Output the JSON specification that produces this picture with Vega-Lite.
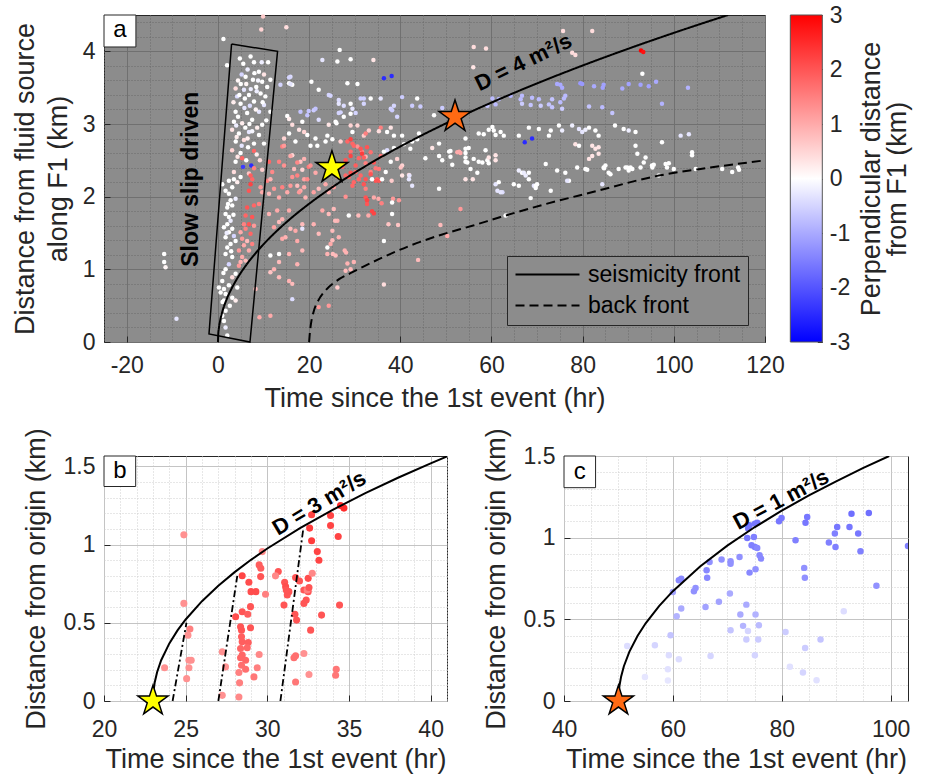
{
"$schema": "https://vega.github.io/schema/vega-lite/v6.json",
"background": "white",
"padding": {"left": 10, "top": 3, "right": 5, "bottom": 5},
"config": {
  "font": "Liberation Sans",
  "view": {"stroke": "#262626", "strokeWidth": 1},
  "axis": {"domain": false, "labelFontSize": 23, "titleFontSize": 27, "titleFontWeight": "normal", "labelColor": "#262626", "titleColor": "#262626", "tickColor": "#262626", "labelFont": "Liberation Sans", "titleFont": "Liberation Sans", "labelOverlap": false, "labelFlush": false, "tickWidth": 1, "titleLimit": 500},
  "legend": {"labelFont": "Liberation Sans", "titleFont": "Liberation Sans"}
},
"datasets": {
"a": [
{"t":-11.8,"r":1.21,"p":0},{"t":-11.8,"r":1.10,"p":0},{"t":-11.5,"r":1.03,"p":0.1},{"t":-9.1,"r":0.32,"p":-0.3},{"t":1.2,"r":4.17,"p":0},{"t":2.0,"r":3.81,"p":0},{"t":9.9,"r":4.48,"p":0.6},{"t":9.5,"r":4.3,"p":0.5},{"t":15,"r":4.33,"p":0.4},
{"t":5.55,"r":3.83,"p":0},{"t":7.15,"r":3.93,"p":0},{"t":5.2,"r":3.68,"p":-0.5},{"t":6.06,"r":3.65,"p":0},{"t":8.98,"r":3.72,"p":0},{"t":10.1,"r":3.68,"p":0.3},{"t":7.67,"r":3.61,"p":0},{"t":9.7,"r":3.58,"p":0},{"t":11.5,"r":3.61,"p":0},{"t":3.87,"r":3.49,"p":0.4},{"t":5.7,"r":3.47,"p":-0.3},{"t":8.4,"r":3.51,"p":0},{"t":10.8,"r":3.51,"p":0},{"t":4.2,"r":3.38,"p":-0.4},{"t":6.8,"r":3.40,"p":0},{"t":9.35,"r":3.42,"p":0},{"t":10.4,"r":3.38,"p":0},{"t":4.96,"r":3.28,"p":0},{"t":7.9,"r":3.31,"p":0},{"t":10.1,"r":3.26,"p":-0.3},{"t":3.87,"r":3.17,"p":0},{"t":6.4,"r":3.15,"p":0},{"t":9.0,"r":3.17,"p":-0.3},{"t":11.5,"r":3.17,"p":0},{"t":3.5,"r":3.03,"p":0},{"t":5.3,"r":3.01,"p":0.2},{"t":7.5,"r":3.06,"p":0},{"t":9.7,"r":2.99,"p":0},{"t":3.1,"r":2.92,"p":0.3},{"t":4.6,"r":2.87,"p":0},{"t":6.8,"r":2.89,"p":-0.3},{"t":9.0,"r":2.85,"p":0},{"t":3.9,"r":2.76,"p":0},{"t":5.7,"r":2.78,"p":0.4},{"t":7.9,"r":2.73,"p":0},{"t":10.1,"r":2.73,"p":0},{"t":3.1,"r":2.64,"p":0.5},{"t":4.96,"r":2.6,"p":0},{"t":7.9,"r":2.63,"p":1.8},{"t":5.3,"r":2.53,"p":1.8},{"t":3.87,"r":2.48,"p":0},{"t":7.3,"r":2.43,"p":-2.5},{"t":5.5,"r":2.41,"p":-2.3},{"t":7.9,"r":2.39,"p":1.5},{"t":6.8,"r":2.32,"p":0.7},{"t":9.7,"r":2.37,"p":0.6},{"t":3.5,"r":2.34,"p":0.4},
{"t":4.4,"r":3.6,"p":0.1},{"t":6.5,"r":3.75,"p":-0.2},{"t":7.9,"r":3.85,"p":0},{"t":8.5,"r":3.45,"p":-0.2},{"t":6.2,"r":3.55,"p":0.1},{"t":5.0,"r":3.55,"p":0},{"t":7.2,"r":3.48,"p":-0.2},{"t":9.8,"r":3.3,"p":0},{"t":8.3,"r":3.2,"p":0.1},{"t":5.8,"r":3.22,"p":-0.3},{"t":4.4,"r":3.1,"p":0},{"t":6.9,"r":3.0,"p":0},{"t":8.6,"r":2.95,"p":0.2},{"t":4.0,"r":2.98,"p":-0.2},{"t":6.0,"r":2.95,"p":0},{"t":5.2,"r":2.7,"p":-0.3},{"t":6.6,"r":2.68,"p":0},{"t":8.5,"r":2.58,"p":0.2},{"t":4.3,"r":2.55,"p":0.3},{"t":6.2,"r":2.5,"p":0},{"t":9.2,"r":2.5,"p":0.4},{"t":4.7,"r":3.4,"p":0},{"t":3.4,"r":3.3,"p":0.2},{"t":7.0,"r":3.25,"p":-0.4},{"t":8.8,"r":3.6,"p":-0.1},{"t":10.6,"r":3.05,"p":0},{"t":6.5,"r":2.8,"p":0.2},{"t":7.5,"r":2.9,"p":-0.1},{"t":5.9,"r":3.35,"p":0},{"t":4.1,"r":2.82,"p":0.2},{"t":8.0,"r":3.7,"p":0},{"t":9.6,"r":3.85,"p":-0.2},{"t":11.0,"r":3.85,"p":0},{"t":4.8,"r":3.9,"p":0},
{"t":14.1,"r":2.69,"p":1.5},{"t":13.7,"r":3.54,"p":-0.5},{"t":15.9,"r":3.65,"p":-0.4},{"t":15.6,"r":3.56,"p":0},{"t":16.3,"r":3.54,"p":0},{"t":20.5,"r":3.58,"p":0},{"t":22.1,"r":3.47,"p":0},{"t":24.3,"r":3.40,"p":-0.5},{"t":26.5,"r":3.28,"p":-0.3},{"t":22.9,"r":3.88,"p":-0.3},{"t":26.2,"r":3.86,"p":0},{"t":18.1,"r":3.17,"p":-0.7},{"t":19.6,"r":3.12,"p":-0.7},{"t":21.0,"r":3.19,"p":-0.6},{"t":22.1,"r":3.06,"p":-0.4},{"t":18.5,"r":3.03,"p":0},{"t":16.3,"r":2.99,"p":0.4},{"t":17.8,"r":2.92,"p":0.3},{"t":15.6,"r":2.87,"p":0},{"t":19.6,"r":2.85,"p":0},{"t":24.3,"r":2.99,"p":0.3},{"t":25.8,"r":3.03,"p":0},{"t":21.4,"r":2.80,"p":0},{"t":23.6,"r":2.76,"p":0},{"t":14.5,"r":2.80,"p":0.5},{"t":17.0,"r":2.76,"p":0},{"t":13.4,"r":2.48,"p":1.5},{"t":16.3,"r":2.57,"p":0.5},{"t":18.1,"r":2.48,"p":0.7},{"t":19.9,"r":2.41,"p":1.6},{"t":18.5,"r":2.37,"p":0.5},{"t":11.2,"r":2.48,"p":1.8},{"t":11.9,"r":2.34,"p":1.4},
{"t":29.1,"r":3.89,"p":0},{"t":26.7,"r":4.02,"p":0},{"t":34.1,"r":3.88,"p":0.3},{"t":15.9,"r":3.55,"p":-0.3},{"t":15.6,"r":3.64,"p":-0.5},{"t":24.7,"r":3.39,"p":-0.5},{"t":27.6,"r":3.25,"p":-0.4},{"t":26.9,"r":3.16,"p":-0.5},{"t":29.1,"r":3.14,"p":0},{"t":29.5,"r":3.21,"p":-0.3},{"t":31.3,"r":3.35,"p":-0.6},{"t":32.0,"r":3.35,"p":-0.6},{"t":33.5,"r":3.35,"p":0},{"t":35.7,"r":3.35,"p":-0.3},{"t":37.9,"r":3.21,"p":-0.5},{"t":38.6,"r":3.25,"p":-0.5},{"t":40.4,"r":3.37,"p":-0.6},{"t":42.6,"r":3.25,"p":-0.6},{"t":44.4,"r":3.24,"p":-0.6},{"t":19.9,"r":3.18,"p":-0.7},{"t":21.4,"r":3.21,"p":-0.7},{"t":15.2,"r":3.11,"p":0},{"t":15.6,"r":3.07,"p":0.2},{"t":18.9,"r":2.89,"p":0.5},{"t":20.3,"r":2.70,"p":0},{"t":21.8,"r":2.70,"p":0},{"t":24.0,"r":2.84,"p":0},{"t":25.1,"r":2.79,"p":0},{"t":29.1,"r":2.98,"p":0.5},{"t":30.6,"r":2.98,"p":0.5},{"t":32.0,"r":2.84,"p":0.6},{"t":33.1,"r":2.91,"p":0.6},{"t":35.7,"r":2.95,"p":1.5},{"t":37.1,"r":2.89,"p":0},{"t":38.6,"r":2.84,"p":0},{"t":40.4,"r":2.84,"p":0},{"t":43.7,"r":2.79,"p":0},{"t":42.2,"r":2.66,"p":0},{"t":39.3,"r":2.52,"p":0.5},{"t":40.4,"r":2.43,"p":0.5},
{"t":28.4,"r":3.56,"p":0},{"t":30.6,"r":3.55,"p":0},{"t":36.4,"r":3.63,"p":-2.5},{"t":38.1,"r":3.66,"p":-2.5},{"t":26.5,"r":3.33,"p":-0.4},{"t":29.1,"r":3.28,"p":0},{"t":32.0,"r":3.28,"p":-0.5},{"t":30.2,"r":3.15,"p":-0.5},{"t":26.5,"r":3.15,"p":-0.5},{"t":27.6,"r":3.1,"p":0},{"t":26.0,"r":3.01,"p":0},{"t":38.2,"r":3.19,"p":-0.6},{"t":39.3,"r":3.1,"p":-0.5},{"t":49.2,"r":3.22,"p":-0.6},{"t":47.4,"r":3.12,"p":0},{"t":43.7,"r":3.35,"p":0},{"t":29.5,"r":2.89,"p":0},{"t":32.4,"r":2.87,"p":1.5},{"t":35.3,"r":2.9,"p":0.4},{"t":37.9,"r":2.95,"p":0.3},{"t":44.1,"r":2.87,"p":0},{"t":42.6,"r":2.76,"p":0},{"t":40.8,"r":2.72,"p":0},{"t":37.1,"r":2.64,"p":-0.4},{"t":38.6,"r":2.67,"p":0},{"t":36.4,"r":2.62,"p":0},{"t":48.5,"r":2.73,"p":0},{"t":47.0,"r":2.67,"p":0.3},{"t":50.7,"r":2.62,"p":0},{"t":45.5,"r":2.53,"p":0},{"t":37.9,"r":2.48,"p":0},{"t":40.1,"r":2.4,"p":0.7},{"t":41.9,"r":2.30,"p":0.5},{"t":34.6,"r":2.39,"p":1.6},{"t":32.4,"r":2.55,"p":0.9},{"t":31.6,"r":2.62,"p":1.5},{"t":30.6,"r":2.69,"p":1.3},{"t":28.4,"r":2.76,"p":1.8},{"t":29.5,"r":2.73,"p":1.8},{"t":26.9,"r":2.76,"p":0.5},{"t":29.1,"r":2.62,"p":1.7},{"t":30.9,"r":2.53,"p":1.8},{"t":32.4,"r":2.46,"p":1.5},{"t":28.0,"r":2.50,"p":2.0},{"t":27.3,"r":2.41,"p":1.8},{"t":33.5,"r":2.34,"p":1.5},{"t":30.2,"r":2.34,"p":1.7},{"t":36.8,"r":2.34,"p":0},
{"t":59.4,"r":2.92,"p":0},{"t":57.2,"r":2.87,"p":0},{"t":60.9,"r":2.85,"p":0},{"t":60.2,"r":2.96,"p":0},{"t":54.3,"r":2.80,"p":0},{"t":55.0,"r":2.67,"p":0},{"t":54.3,"r":2.60,"p":0},{"t":52.9,"r":2.62,"p":1.0},{"t":57.2,"r":2.48,"p":0},{"t":59.1,"r":2.50,"p":0},{"t":59.4,"r":2.46,"p":0},{"t":60.9,"r":2.50,"p":0.3},{"t":54.3,"r":2.48,"p":0},{"t":51.4,"r":2.44,"p":0},{"t":49.2,"r":2.50,"p":0},{"t":51.0,"r":2.55,"p":0},{"t":58.7,"r":2.64,"p":0},{"t":60.9,"r":2.57,"p":0.3},{"t":56.1,"r":4.06,"p":0.4},{"t":58.8,"r":4.04,"p":0.4},
{"t":29.1,"r":2.79,"p":2.2},{"t":29.8,"r":2.70,"p":1.8},{"t":31.3,"r":2.66,"p":2.0},{"t":31.6,"r":2.59,"p":2.3},{"t":32.0,"r":2.54,"p":1.9},{"t":32.7,"r":2.68,"p":2.0},{"t":33.5,"r":2.61,"p":1.7},{"t":34.2,"r":2.47,"p":2.0},{"t":34.9,"r":2.24,"p":1.8},{"t":35.7,"r":2.56,"p":1.6},{"t":29.1,"r":2.56,"p":2.2},{"t":30.2,"r":2.43,"p":1.9},{"t":29.1,"r":2.33,"p":2.1},{"t":31.3,"r":2.29,"p":1.8},{"t":33.5,"r":2.31,"p":2.0},{"t":35.3,"r":2.38,"p":1.6},
{"t":14.5,"r":2.70,"p":1.2},{"t":15.9,"r":2.56,"p":1.0},{"t":17.4,"r":2.47,"p":1.4},{"t":18.9,"r":2.52,"p":0.9},{"t":20.3,"r":2.43,"p":1.3},{"t":21.4,"r":2.33,"p":1.0},{"t":17.4,"r":2.29,"p":1.5},{"t":18.9,"r":2.24,"p":1.1},{"t":14.5,"r":2.43,"p":1.3},{"t":16.7,"r":2.38,"p":0.8},{"t":15.9,"r":2.15,"p":1.2},{"t":18.1,"r":2.08,"p":1.0},
{"t":1.67,"r":1.76,"p":0},{"t":2.40,"r":1.72,"p":0},{"t":2.77,"r":1.67,"p":-0.2},{"t":2.04,"r":1.62,"p":0},{"t":1.31,"r":1.58,"p":0},{"t":3.13,"r":1.56,"p":0},{"t":2.40,"r":1.51,"p":0},{"t":1.67,"r":1.44,"p":0},{"t":3.5,"r":1.46,"p":-0.5},{"t":3.87,"r":1.39,"p":0},{"t":2.77,"r":1.35,"p":0},{"t":2.04,"r":1.30,"p":0},{"t":1.67,"r":1.21,"p":0},{"t":3.13,"r":1.17,"p":0},{"t":2.40,"r":1.07,"p":-0.5},{"t":1.67,"r":1.00,"p":0},{"t":3.87,"r":0.94,"p":0},{"t":3.13,"r":0.89,"p":0.4},{"t":0.94,"r":0.84,"p":0},{"t":0.21,"r":0.75,"p":0},{"t":1.31,"r":0.73,"p":0},{"t":2.40,"r":0.78,"p":0},{"t":4.23,"r":0.75,"p":0},{"t":0.58,"r":0.68,"p":0},{"t":1.67,"r":0.66,"p":0},{"t":1.31,"r":0.57,"p":0},{"t":3.13,"r":0.61,"p":0},{"t":3.87,"r":0.57,"p":0.2},{"t":1.67,"r":0.43,"p":0},{"t":0.94,"r":0.36,"p":0},{"t":1.31,"r":0.29,"p":0},{"t":1.67,"r":0.20,"p":-0.2},{"t":2.04,"r":0.09,"p":0},{"t":2.04,"r":1.85,"p":0},{"t":3.13,"r":1.88,"p":0},{"t":2.77,"r":1.95,"p":0},{"t":3.87,"r":1.97,"p":-0.2},{"t":2.40,"r":2.04,"p":0},{"t":3.13,"r":2.13,"p":0},{"t":4.23,"r":2.20,"p":0.2},{"t":3.5,"r":2.24,"p":0},{"t":4.96,"r":2.27,"p":0},{"t":2.40,"r":2.22,"p":0},{"t":0.94,"r":2.17,"p":0},{"t":1.67,"r":2.08,"p":0},{"t":2.2,"r":1.9,"p":0},{"t":1.9,"r":1.5,"p":-0.2},{"t":3.4,"r":1.75,"p":0},{"t":2.9,"r":1.25,"p":0},{"t":1.2,"r":0.95,"p":0},{"t":2.6,"r":0.5,"p":0},{"t":1.0,"r":0.55,"p":0},
{"t":6.79,"r":2.08,"p":2.0},{"t":7.15,"r":2.17,"p":2.2},{"t":7.52,"r":2.24,"p":1.8},{"t":7.15,"r":2.29,"p":1.9},{"t":7.9,"r":1.88,"p":1.8},{"t":6.4,"r":1.85,"p":2.0},{"t":9.0,"r":1.90,"p":1.5},{"t":6.06,"r":1.74,"p":1.8},{"t":7.5,"r":1.72,"p":2.0},{"t":5.7,"r":1.62,"p":1.5},{"t":6.8,"r":1.62,"p":2.0},{"t":7.9,"r":1.60,"p":1.2},{"t":6.06,"r":1.56,"p":1.5},{"t":4.96,"r":1.51,"p":1.0},{"t":7.15,"r":1.49,"p":1.8},{"t":5.3,"r":1.42,"p":1.2},{"t":6.4,"r":1.39,"p":0.8},{"t":7.5,"r":1.35,"p":1.5},{"t":5.7,"r":1.33,"p":1.0},{"t":4.6,"r":1.26,"p":1.2},{"t":5.3,"r":1.17,"p":1.0},{"t":4.96,"r":1.10,"p":0.9},{"t":4.6,"r":1.05,"p":1.2},{"t":6.8,"r":1.26,"p":1.0},{"t":6.06,"r":1.12,"p":0.8},
{"t":9.35,"r":2.13,"p":1.2},{"t":9.7,"r":2.06,"p":1.0},{"t":10.8,"r":2.22,"p":1.5},{"t":11.5,"r":2.24,"p":0.9},{"t":12.3,"r":2.11,"p":1.2},{"t":11.2,"r":2.04,"p":0.8},{"t":13.4,"r":1.99,"p":1.0},{"t":14.1,"r":2.13,"p":1.5},{"t":15.2,"r":2.06,"p":1.0},{"t":16.3,"r":2.27,"p":1.3},{"t":17.4,"r":2.15,"p":0.8},{"t":17.8,"r":2.06,"p":1.2},{"t":18.9,"r":2.13,"p":1.0},{"t":19.6,"r":2.24,"p":1.4},{"t":19.2,"r":1.99,"p":0.9},{"t":21.0,"r":2.06,"p":1.1},{"t":22.1,"r":2.11,"p":0.8},{"t":23.6,"r":2.17,"p":1.0},{"t":24.3,"r":2.06,"p":0.9},{"t":25.4,"r":2.13,"p":1.2},{"t":26.2,"r":2.27,"p":1.0},
{"t":11.2,"r":1.76,"p":0.9},{"t":13.0,"r":1.81,"p":1.0},{"t":13.4,"r":1.65,"p":0.8},{"t":12.3,"r":1.58,"p":1.1},{"t":14.1,"r":1.69,"p":0.9},{"t":15.6,"r":1.81,"p":1.0},{"t":15.9,"r":1.56,"p":0.8},{"t":17.0,"r":1.53,"p":1.0},{"t":14.8,"r":1.44,"p":0.9},{"t":17.4,"r":1.39,"p":1.0},{"t":18.5,"r":1.26,"p":0.8},{"t":15.6,"r":1.21,"p":0.9},{"t":13.4,"r":1.10,"p":0.8},{"t":12.3,"r":1.00,"p":0.9},{"t":13.4,"r":0.89,"p":0.8},{"t":15.6,"r":0.84,"p":0.9},{"t":16.3,"r":0.80,"p":0.8},{"t":17.4,"r":1.07,"p":0.9},{"t":11.5,"r":0.96,"p":0.7},{"t":14.1,"r":1.42,"p":1.0},{"t":18.5,"r":1.62,"p":0.8},{"t":21.0,"r":1.62,"p":0.9},{"t":22.1,"r":1.49,"p":0.8},{"t":24.0,"r":1.21,"p":0.9},{"t":24.7,"r":1.35,"p":1.0},{"t":25.8,"r":1.19,"p":0.8},{"t":26.5,"r":1.44,"p":0.9},{"t":22.9,"r":1.81,"p":1.0},{"t":24.3,"r":1.76,"p":0.8},{"t":26.2,"r":1.67,"p":0.9},{"t":11.5,"r":1.19,"p":0},{"t":13.4,"r":1.21,"p":0},{"t":18.5,"r":1.56,"p":-0.3},{"t":24.0,"r":1.3,"p":0},{"t":16.3,"r":0.59,"p":-0.4},{"t":9.1,"r":0.34,"p":1.0},{"t":11.5,"r":0.36,"p":1.0},{"t":8.25,"r":0.73,"p":0.8},{"t":22.1,"r":0.48,"p":1.2},{"t":24.3,"r":0.50,"p":1.2},
{"t":28.0,"r":2.29,"p":1.8},{"t":28.7,"r":2.27,"p":1.8},{"t":32.4,"r":2.24,"p":2.0},{"t":32.0,"r":2.17,"p":2.0},{"t":34.6,"r":2.22,"p":2.0},{"t":35.3,"r":2.22,"p":2.0},{"t":33.8,"r":2.24,"p":0},{"t":36.0,"r":2.24,"p":0},{"t":38.1,"r":2.22,"p":0.6},{"t":40.4,"r":2.29,"p":0.3},{"t":41.9,"r":2.24,"p":-0.3},{"t":42.0,"r":2.29,"p":-0.3},{"t":42.6,"r":2.15,"p":-0.3},{"t":48.5,"r":2.11,"p":0},{"t":54.3,"r":2.24,"p":0.3},{"t":55.9,"r":2.24,"p":0.3},{"t":60.9,"r":2.17,"p":-0.3},{"t":61.3,"r":2.08,"p":-0.3},
{"t":29.5,"r":2.15,"p":1.8},{"t":29.8,"r":2.20,"p":1.8},{"t":30.9,"r":2.24,"p":1.8},{"t":32.4,"r":2.11,"p":1.5},{"t":32.4,"r":1.99,"p":2.0},{"t":32.7,"r":1.95,"p":2.2},{"t":32.7,"r":1.90,"p":2.0},{"t":34.2,"r":1.99,"p":1.0},{"t":35.2,"r":1.97,"p":1.0},{"t":33.8,"r":1.80,"p":2.2},{"t":34.2,"r":1.77,"p":2.2},{"t":35.9,"r":1.91,"p":1.5},{"t":38.4,"r":1.97,"p":1.2},{"t":39.7,"r":1.95,"p":1.2},{"t":38.2,"r":1.92,"p":0},{"t":38.2,"r":1.76,"p":0},{"t":33.0,"r":1.74,"p":1.0},{"t":30.8,"r":1.74,"p":0.8},{"t":28.7,"r":1.74,"p":0},{"t":28.0,"r":2.0,"p":1.3},{"t":25.4,"r":1.83,"p":0.8},{"t":25.7,"r":1.67,"p":0.8},{"t":37.4,"r":1.62,"p":0.7},{"t":39.5,"r":1.61,"p":0.7},{"t":36.4,"r":1.39,"p":0},{"t":48.8,"r":1.61,"p":0.8},{"t":50.3,"r":1.46,"p":1.0},{"t":53.2,"r":1.83,"p":1.2},{"t":27.8,"r":1.26,"p":0.9},{"t":28.1,"r":1.23,"p":0.9},{"t":28.4,"r":1.08,"p":0.9},{"t":29.8,"r":1.10,"p":0.9},{"t":28.0,"r":0.98,"p":0.8},{"t":29.1,"r":1.00,"p":0.8},{"t":43.9,"r":1.13,"p":0.8},{"t":26.2,"r":0.75,"p":0.6},{"t":36.4,"r":0.79,"p":0.4},{"t":25.2,"r":1.21,"p":0.8},{"t":25.1,"r":1.40,"p":0.8},{"t":25.1,"r":1.53,"p":0.8},
{"t":56.0,"r":3.78,"p":0.3},{"t":75.7,"r":4.28,"p":0.4},{"t":82.1,"r":4.28,"p":0.4},{"t":77.7,"r":3.98,"p":0.4},{"t":78.4,"r":3.95,"p":0.4},{"t":92.8,"r":4.01,"p":3},{"t":93.3,"r":3.99,"p":2.8},{"t":93.1,"r":3.69,"p":0},
{"t":74.4,"r":3.55,"p":-1.0},{"t":75.1,"r":3.54,"p":-1.0},{"t":75.5,"r":3.50,"p":-1.0},{"t":79.5,"r":3.56,"p":-1.2},{"t":79.9,"r":3.55,"p":-1.2},{"t":82.5,"r":3.52,"p":-1.0},{"t":84.6,"r":3.54,"p":-1.1},{"t":84.4,"r":3.50,"p":-1.1},{"t":88.7,"r":3.49,"p":-1.0},{"t":90.1,"r":3.55,"p":-1.1},{"t":92.7,"r":3.54,"p":-1.1},{"t":94.5,"r":3.52,"p":-1.1},{"t":96.1,"r":3.58,"p":-1.0},{"t":103.1,"r":3.50,"p":-0.9},{"t":97.4,"r":3.28,"p":-0.9},{"t":86.5,"r":3.15,"p":-0.7},{"t":84.3,"r":3.23,"p":-0.8},{"t":81.4,"r":3.24,"p":-0.7},{"t":76.2,"r":3.39,"p":-0.8},{"t":75.9,"r":3.35,"p":-0.8},{"t":75.1,"r":3.30,"p":-0.8},{"t":73.3,"r":3.34,"p":-0.7},{"t":72.6,"r":3.27,"p":-0.7},{"t":73.3,"r":3.23,"p":-0.7},{"t":70.4,"r":3.34,"p":-0.8},{"t":68.9,"r":3.36,"p":-0.8},{"t":66.7,"r":3.39,"p":-0.8},{"t":66.4,"r":3.34,"p":-0.8},{"t":64.2,"r":3.39,"p":-0.9},{"t":61.6,"r":3.34,"p":-0.8},{"t":60.9,"r":3.27,"p":-0.8},{"t":59.1,"r":3.25,"p":-0.7},{"t":60.2,"r":3.35,"p":-0.8},{"t":66.7,"r":3.28,"p":-0.6},{"t":68.6,"r":3.26,"p":-0.7},{"t":70.8,"r":3.25,"p":-0.6},{"t":75.5,"r":3.21,"p":-0.6},
{"t":77.7,"r":2.98,"p":-0.2},{"t":79.2,"r":2.93,"p":-0.3},{"t":79.9,"r":2.89,"p":-0.3},{"t":80.6,"r":2.92,"p":-0.2},{"t":81.4,"r":2.95,"p":0},{"t":74.8,"r":2.98,"p":0},{"t":75.5,"r":2.91,"p":-0.2},{"t":72.6,"r":2.84,"p":0},{"t":73.0,"r":2.91,"p":0},{"t":70.4,"r":2.93,"p":0},{"t":68.2,"r":2.95,"p":0},{"t":66.0,"r":2.84,"p":0},{"t":62.7,"r":2.84,"p":0},{"t":62.0,"r":2.89,"p":0},{"t":60.5,"r":2.91,"p":0},{"t":58.3,"r":2.86,"p":0},{"t":82.8,"r":2.91,"p":0},{"t":83.5,"r":2.84,"p":0},{"t":87.1,"r":2.98,"p":0},{"t":89.0,"r":2.93,"p":0},{"t":90.1,"r":2.91,"p":-0.2},{"t":91.6,"r":2.89,"p":0},{"t":97.4,"r":2.75,"p":0},{"t":101.5,"r":2.84,"p":-0.3},{"t":103.3,"r":2.86,"p":-0.3},{"t":104.0,"r":2.61,"p":0},{"t":104.0,"r":2.57,"p":0},
{"t":78.4,"r":2.72,"p":0.3},{"t":79.2,"r":2.70,"p":0},{"t":82.1,"r":2.70,"p":0.3},{"t":82.8,"r":2.66,"p":0.3},{"t":83.5,"r":2.68,"p":0.3},{"t":83.5,"r":2.59,"p":0.3},{"t":82.1,"r":2.56,"p":0.3},{"t":81.4,"r":2.52,"p":0.3},{"t":84.6,"r":2.40,"p":0},{"t":85.7,"r":2.33,"p":0},{"t":87.9,"r":2.38,"p":0},{"t":91.6,"r":2.70,"p":0},{"t":93.8,"r":2.54,"p":0},{"t":93.4,"r":2.47,"p":0},{"t":95.2,"r":2.43,"p":0},{"t":89.8,"r":2.40,"p":0},{"t":90.9,"r":2.38,"p":0},{"t":98.2,"r":2.45,"p":0},
{"t":71.9,"r":2.45,"p":0},{"t":74.4,"r":2.36,"p":0},{"t":76.2,"r":2.33,"p":0},{"t":80.6,"r":2.38,"p":0},{"t":77.0,"r":2.22,"p":0},{"t":73.0,"r":2.08,"p":0},{"t":70.0,"r":2.17,"p":0},{"t":68.2,"r":2.24,"p":0},{"t":66.7,"r":2.33,"p":0},{"t":66.0,"r":2.15,"p":0},{"t":69.3,"r":2.15,"p":-0.3},{"t":61.6,"r":2.20,"p":0},{"t":62.4,"r":2.06,"p":-0.4},{"t":64.9,"r":2.17,"p":0},{"t":54.3,"r":2.66,"p":0},{"t":54.3,"r":2.54,"p":0},{"t":54.7,"r":2.47,"p":0},{"t":56.1,"r":2.52,"p":0},{"t":58.0,"r":2.47,"p":0},{"t":59.4,"r":2.54,"p":0.3},{"t":55.4,"r":2.38,"p":0},{"t":56.9,"r":2.33,"p":0},{"t":48.5,"r":2.56,"p":0},{"t":51.0,"r":2.63,"p":0},{"t":52.5,"r":2.61,"p":1.0},{"t":53.2,"r":2.60,"p":1.0},
{"t":104.8,"r":2.38,"p":0},{"t":110.6,"r":2.38,"p":0},{"t":112.8,"r":2.34,"p":0},{"t":114.3,"r":2.37,"p":0},{"t":114.1,"r":2.40,"p":0},{"t":100,"r":2.38,"p":0},{"t":98.5,"r":2.40,"p":0},{"t":98.9,"r":2.46,"p":0},{"t":96.7,"r":2.29,"p":0},{"t":95.3,"r":2.40,"p":0},{"t":95.6,"r":2.44,"p":0},{"t":92,"r":2.59,"p":0},{"t":68.2,"r":2.33,"p":0},{"t":69.7,"r":2.15,"p":0},{"t":69.7,"r":2.12,"p":0},{"t":68.6,"r":1.98,"p":0},{"t":66.0,"r":2.36,"p":-0.2},{"t":67.1,"r":2.33,"p":-0.2},{"t":67.5,"r":2.29,"p":-0.2},{"t":62.0,"r":2.06,"p":-0.3},{"t":76.6,"r":2.22,"p":-0.3},{"t":84.3,"r":2.17,"p":-0.3},{"t":78.8,"r":2.40,"p":0},{"t":81.0,"r":2.37,"p":0},{"t":86.1,"r":2.31,"p":0},{"t":85.0,"r":2.43,"p":0},{"t":84.7,"r":2.39,"p":0},{"t":89.4,"r":2.40,"p":0},{"t":90.1,"r":2.36,"p":0},{"t":90.5,"r":2.40,"p":0},{"t":92.7,"r":2.40,"p":0},{"t":63.1,"r":1.74,"p":0},{"t":67.3,"r":2.75,"p":-2.5},{"t":68.9,"r":2.80,"p":-2.5}
],
"fronts": [
{"front":"seismicity front","t":0,"r":0},{"front":"seismicity front","t":0.05,"r":0.0951},{"front":"seismicity front","t":0.2,"r":0.1902},{"front":"seismicity front","t":0.5,"r":0.3008},{"front":"seismicity front","t":1,"r":0.4254},{"front":"seismicity front","t":2,"r":0.6016},{"front":"seismicity front","t":3,"r":0.7368},{"front":"seismicity front","t":4,"r":0.8508},{"front":"seismicity front","t":6,"r":1.042},{"front":"seismicity front","t":8,"r":1.2032},{"front":"seismicity front","t":10,"r":1.3452},{"front":"seismicity front","t":13,"r":1.5338},{"front":"seismicity front","t":16,"r":1.7016},{"front":"seismicity front","t":20,"r":1.9024},{"front":"seismicity front","t":25,"r":2.127},{"front":"seismicity front","t":30,"r":2.33},{"front":"seismicity front","t":35,"r":2.5166},{"front":"seismicity front","t":40,"r":2.6904},{"front":"seismicity front","t":45,"r":2.8536},{"front":"seismicity front","t":50,"r":3.008},{"front":"seismicity front","t":55,"r":3.1548},{"front":"seismicity front","t":60,"r":3.295},{"front":"seismicity front","t":70,"r":3.5591},{"front":"seismicity front","t":80,"r":3.8048},{"front":"seismicity front","t":90,"r":4.0356},{"front":"seismicity front","t":100,"r":4.2539},{"front":"seismicity front","t":106,"r":4.3797},{"front":"seismicity front","t":111.9,"r":4.4999},
{"front":"back front","t":20,"r":0},{"front":"back front","t":20.15,"r":0.12},{"front":"back front","t":20.4,"r":0.25},{"front":"back front","t":21,"r":0.42},{"front":"back front","t":22,"r":0.57},{"front":"back front","t":23.6,"r":0.71},{"front":"back front","t":26,"r":0.84},{"front":"back front","t":29.5,"r":0.96},{"front":"back front","t":35.3,"r":1.14},{"front":"back front","t":41.9,"r":1.32},{"front":"back front","t":49.2,"r":1.48},{"front":"back front","t":55.8,"r":1.6},{"front":"back front","t":62,"r":1.72},{"front":"back front","t":72,"r":1.9},{"front":"back front","t":82,"r":2.06},{"front":"back front","t":96.7,"r":2.29},{"front":"back front","t":108,"r":2.4},{"front":"back front","t":120,"r":2.5}
],
"box": [{"i":0,"t":2.98,"r":4.10},{"i":1,"t":13.07,"r":4.0},{"i":2,"t":7.02,"r":0.0},{"i":3,"t":-1.97,"r":0.11},{"i":4,"t":2.98,"r":4.10}],
"b": [
{"t":24.89,"r":1.062,"p":1.3},{"t":24.89,"r":0.624,"p":1.3},{"t":23.71,"r":0.212,"p":1.3},{"t":25.26,"r":0.46,"p":1.5},{"t":25.14,"r":0.421,"p":1.3},{"t":25.2,"r":0.261,"p":1.3},{"t":25.34,"r":0.261,"p":1.3},{"t":25.2,"r":0.212,"p":1.3},{"t":25.06,"r":0.143,"p":1.3},
{"t":29.69,"r":0.955,"p":1.4},{"t":29.5,"r":0.87,"p":1.9},{"t":29.6,"r":0.849,"p":1.9},{"t":28.46,"r":0.801,"p":2.2},{"t":28.87,"r":0.759,"p":2.1},{"t":29.59,"r":0.795,"p":2.0},{"t":29.0,"r":0.699,"p":2.1},{"t":29.3,"r":0.699,"p":2.1},{"t":29.89,"r":0.682,"p":1.5},{"t":28.97,"r":0.603,"p":2.0},{"t":28.46,"r":0.571,"p":2.0},{"t":28.8,"r":0.554,"p":1.9},{"t":28.06,"r":0.539,"p":2.1},{"t":28.36,"r":0.475,"p":2.0},{"t":28.42,"r":0.453,"p":2.0},{"t":28.97,"r":0.468,"p":2.0},{"t":28.42,"r":0.41,"p":1.9},{"t":28.46,"r":0.378,"p":1.9},{"t":28.83,"r":0.374,"p":1.9},{"t":28.36,"r":0.336,"p":1.8},{"t":28.77,"r":0.34,"p":1.8},{"t":28.46,"r":0.293,"p":1.8},{"t":28.36,"r":0.276,"p":1.8},{"t":28.67,"r":0.261,"p":1.8},{"t":28.42,"r":0.229,"p":1.7},{"t":28.67,"r":0.203,"p":1.7},{"t":28.26,"r":0.182,"p":1.5},{"t":28.3,"r":0.116,"p":1.5},{"t":28.26,"r":0.026,"p":1.4},{"t":29.38,"r":0.212,"p":1.5},{"t":29.18,"r":0.154,"p":1.6},{"t":29.5,"r":0.297,"p":1.4},{"t":27.24,"r":0.314,"p":1.3},{"t":27.44,"r":0.218,"p":1.3},{"t":27.24,"r":0.036,"p":1.3},
{"t":30.67,"r":0.827,"p":2.0},{"t":30.5,"r":0.8,"p":1.4},{"t":31.06,"r":0.759,"p":2.0},{"t":31.12,"r":0.731,"p":2.1},{"t":31.32,"r":0.699,"p":2.0},{"t":31.22,"r":0.677,"p":2.0},{"t":31.16,"r":0.71,"p":2.0},{"t":31.02,"r":0.613,"p":2.0},{"t":31.73,"r":0.789,"p":2.0},{"t":31.97,"r":0.767,"p":2.0},{"t":31.69,"r":0.554,"p":2.0},{"t":31.79,"r":0.517,"p":2.0},{"t":31.63,"r":0.276,"p":1.7},{"t":31.73,"r":0.289,"p":1.7},{"t":31.73,"r":0.122,"p":1.6},{"t":32.24,"r":0.304,"p":1.3},{"t":32.55,"r":0.169,"p":1.3},{"t":32.24,"r":0.71,"p":2.0},{"t":32.5,"r":0.699,"p":2.0},{"t":32.44,"r":0.71,"p":1.5},{"t":32.55,"r":0.725,"p":2.0},{"t":32.38,"r":0.645,"p":2.0},{"t":32.24,"r":0.624,"p":2.0},{"t":32.5,"r":0.784,"p":2.1},{"t":32.75,"r":0.816,"p":1.4},{"t":32.65,"r":0.453,"p":2.0},{"t":32.71,"r":1.024,"p":2.3},{"t":32.59,"r":1.105,"p":2.3},{"t":33.06,"r":0.955,"p":2.2},{"t":33.16,"r":0.9,"p":2.2},{"t":32.71,"r":1.19,"p":2.2},{"t":33.32,"r":0.549,"p":2.0},{"t":33.87,"r":1.186,"p":2.2},{"t":33.87,"r":1.122,"p":2.2},{"t":34.34,"r":1.051,"p":2.2},{"t":34.42,"r":0.613,"p":2.0},{"t":34.22,"r":0.203,"p":1.6},{"t":34.18,"r":0.165,"p":1.6},{"t":34.48,"r":1.25,"p":2.5},{"t":34.69,"r":1.233,"p":2.5}
],
"fb": [{"t":23,"r":0},{"t":23.02,"r":0.0521},{"t":23.1,"r":0.1165},{"t":23.25,"r":0.1842},{"t":23.5,"r":0.2605},{"t":24,"r":0.3684},{"t":24.5,"r":0.4512},{"t":25,"r":0.521},{"t":26,"r":0.6381},{"t":27,"r":0.7368},{"t":28,"r":0.8238},{"t":29,"r":0.9024},{"t":30,"r":0.9747},{"t":32,"r":1.1052},{"t":34,"r":1.2218},{"t":36,"r":1.3283},{"t":38,"r":1.4268},{"t":40,"r":1.519},{"t":41,"r":1.563}],
"segs": [{"s":1,"t":24.2,"r":0},{"s":1,"t":25.05,"r":0.5},{"s":2,"t":27.0,"r":0},{"s":2,"t":28.16,"r":0.8},{"s":3,"t":30.8,"r":0},{"s":3,"t":32.2,"r":1.1}],
"c": [
{"t":51.62,"r":0.337,"p":-0.4},{"t":54.87,"r":0.147,"p":-0.3},{"t":56.7,"r":0.341,"p":-0.5},{"t":59.09,"r":0.194,"p":-0.35},{"t":59.09,"r":0.125,"p":-0.3},{"t":59.27,"r":0.28,"p":-0.4},{"t":59.58,"r":0.402,"p":-0.7},{"t":61.1,"r":0.256,"p":-0.4},{"t":60.7,"r":0.519,"p":-0.9},{"t":61.54,"r":0.566,"p":-1.0},{"t":60.0,"r":0.668,"p":-1.1},{"t":61.1,"r":0.739,"p":-1.4},{"t":61.54,"r":0.749,"p":-1.4},{"t":63.87,"r":0.672,"p":-1.3},{"t":64.17,"r":0.692,"p":-1.3},{"t":66.0,"r":0.576,"p":-1.1},{"t":66.2,"r":0.80,"p":-1.4},{"t":66.3,"r":0.754,"p":-1.4},{"t":66.75,"r":0.851,"p":-1.3},{"t":66.93,"r":0.276,"p":-0.5},{"t":68.46,"r":0.607,"p":-1.1},{"t":68.95,"r":0.866,"p":-1.3},{"t":70.48,"r":0.658,"p":-1.0},{"t":70.6,"r":0.855,"p":-1.3},{"t":70.6,"r":0.841,"p":-1.3},{"t":70.6,"r":0.433,"p":-0.7},{"t":72.25,"r":0.882,"p":-1.3},{"t":72.4,"r":0.529,"p":-1.0},{"t":72.9,"r":0.46,"p":-0.9},{"t":73.5,"r":0.59,"p":-1.0},{"t":73.5,"r":0.376,"p":-0.6},{"t":73.8,"r":0.429,"p":-0.5},{"t":73.66,"r":0.998,"p":-1.6},{"t":73.84,"r":1.056,"p":-1.6},{"t":74.09,"r":1.076,"p":-1.6},{"t":74.46,"r":0.953,"p":-1.5},{"t":75.07,"r":0.943,"p":-1.5},{"t":74.09,"r":0.786,"p":-1.4},{"t":75.07,"r":1.086,"p":-1.6},{"t":75.5,"r":1.092,"p":-1.6},{"t":74.89,"r":1.004,"p":-1.5},{"t":75.19,"r":0.807,"p":-1.3},{"t":75.19,"r":0.529,"p":-0.9},{"t":75.07,"r":0.28,"p":-0.5},{"t":75.68,"r":0.376,"p":-0.6},{"t":75.8,"r":0.464,"p":-0.8},{"t":75.5,"r":0.937,"p":-1.4},{"t":75.93,"r":0.892,"p":-1.4},{"t":76.2,"r":0.872,"p":-1.4},{"t":79.5,"r":1.10,"p":-1.6},{"t":79.97,"r":1.12,"p":-1.6},{"t":80.7,"r":0.423,"p":-0.6},{"t":81.5,"r":0.209,"p":-0.35},{"t":82.54,"r":0.984,"p":-1.5},{"t":83.9,"r":0.174,"p":-0.5},{"t":84.3,"r":0.325,"p":-0.6},{"t":84.13,"r":0.815,"p":-1.3},{"t":84.25,"r":0.754,"p":-1.3},{"t":84.37,"r":1.092,"p":-1.6},{"t":84.68,"r":1.127,"p":-1.6},{"t":86.4,"r":0.127,"p":-0.35},{"t":87.13,"r":0.376,"p":-0.7},{"t":88.66,"r":0.97,"p":-1.5},{"t":89.76,"r":1.025,"p":-1.5},{"t":89.88,"r":0.943,"p":-1.5},{"t":90.19,"r":1.066,"p":-1.6},{"t":91.4,"r":0.549,"p":-0.4},{"t":92.45,"r":1.066,"p":-1.6},{"t":92.82,"r":1.147,"p":-1.7},{"t":94.05,"r":1.025,"p":-1.6},{"t":94.47,"r":0.917,"p":-1.5},{"t":96.0,"r":1.151,"p":-1.7},{"t":97.4,"r":0.705,"p":-1.3},{"t":103.2,"r":0.949,"p":-1.5}
],
"fc": [{"t":50,"r":0},{"t":50.05,"r":0.0476},{"t":50.2,"r":0.0951},{"t":50.5,"r":0.1504},{"t":51,"r":0.2127},{"t":52,"r":0.3008},{"t":53.5,"r":0.3979},{"t":55,"r":0.4756},{"t":57.5,"r":0.5825},{"t":60,"r":0.6726},{"t":65,"r":0.8238},{"t":70,"r":0.9512},{"t":75,"r":1.0635},{"t":80,"r":1.165},{"t":85,"r":1.2583},{"t":90,"r":1.3452},{"t":95,"r":1.4268},{"t":99.74,"r":1.5}],
"cbar": [{"lo": -3, "hi": 3}],
"one": [{"k": 1}]
},
"bounds": "flush",
"spacing": 114,
"resolve": {"scale": {"color": "independent", "strokeDash": "independent"}},
"vconcat": [
{
  "width": 661, "height": 327,
  "view": {"fill": "#8c8c8c", "stroke": "#262626"},
  "resolve": {"scale": {"x": "independent", "y": "independent"}, "axis": {"x": "independent", "y": "independent"}},
  "layer": [
  {"layer": [
    {"data": {"name": "a"},
     "mark": {"type": "circle", "size": 20, "opacity": 1},
     "encoding": {
       "x": {"field": "t", "type": "quantitative", "scale": {"domain": [-25, 120], "nice": false, "zero": false},
         "axis": {"orient": "bottom", "title": "Time since the 1st event (hr)", "tickCount": 500, "values": [-25,-20,-15,-10,-5,0,5,10,15,20,25,30,35,40,45,50,55,60,65,70,75,80,85,90,95,100,105,110,115,120],
           "labelExpr": "datum.value % 20 === 0 ? toString(datum.value) : ''", "labelOverlap": false, "grid": true,
           "gridColor": {"condition": {"test": "datum.value % 20 === 0", "value": "#707070"}, "value": "#6a6a6a"},
           "gridDash": {"condition": {"test": "datum.value % 20 === 0", "value": []}, "value": [1, 2]},
           "tickSize": -6, "tickOpacity": {"condition": {"test": "datum.value % 20 === 0", "value": 1}, "value": 0},
           "labelPadding": 18, "titlePadding": 8}},
       "y": {"field": "r", "type": "quantitative", "scale": {"domain": [0, 4.5], "nice": false, "zero": false},
         "axis": {"orient": "left", "title": ["Distance from fluid source", "along F1 (km)"], "tickCount": 500, "values": [0,0.2,0.4,0.6,0.8,1,1.2,1.4,1.6,1.8,2,2.2,2.4,2.6,2.8,3,3.2,3.4,3.6,3.8,4,4.2,4.4],
           "labelExpr": "datum.value % 1 === 0 ? toString(datum.value) : ''", "labelOverlap": false, "grid": true,
           "gridColor": {"condition": {"test": "datum.value % 1 === 0", "value": "#707070"}, "value": "#6a6a6a"},
           "gridDash": {"condition": {"test": "datum.value % 1 === 0", "value": []}, "value": [1, 2]},
           "tickSize": -6, "tickOpacity": {"condition": {"test": "datum.value % 1 === 0", "value": 1}, "value": 0},
           "labelPadding": 15, "titlePadding": 10, "titleLineHeight": 33}},
       "color": {"field": "p", "type": "quantitative",
         "scale": {"domain": [-3, 0, 3], "range": ["#0000ff", "#ffffff", "#ff0000"], "interpolate": "rgb"}, "legend": null}
     }},
    {"data": {"name": "fronts"},
     "mark": {"type": "line", "color": "black", "strokeWidth": 2, "clip": true, "interpolate": "monotone"},
     "encoding": {
       "x": {"field": "t", "type": "quantitative"},
       "y": {"field": "r", "type": "quantitative"},
       "strokeDash": {"field": "front", "type": "nominal",
         "scale": {"domain": ["seismicity front", "back front"], "range": [[1, 0], [9, 5]]},
         "legend": {"orient": "bottom-right", "offset": 17, "title": null, "padding": 7, "fillColor": "#8c8c8c", "strokeColor": "#262626",
           "symbolType": "M-8,0L8,0", "symbolSize": 64, "symbolOffset": 22, "symbolStrokeColor": "black", "symbolStrokeWidth": 2,
           "labelFontSize": 23, "labelColor": "black", "labelOffset": 29, "rowPadding": 7, "labelLimit": 400}}
     }},
    {"data": {"name": "box"},
     "mark": {"type": "line", "color": "black", "strokeWidth": 1.5},
     "encoding": {"x": {"field": "t", "type": "quantitative"}, "y": {"field": "r", "type": "quantitative"}, "order": {"field": "i", "type": "quantitative"}}},
    {"data": {"name": "one"},
     "mark": {"type": "point", "shape": "M0,-1L0.2245,-0.309L0.9511,-0.309L0.3633,0.118L0.5878,0.809L0,0.382L-0.5878,0.809L-0.3633,0.118L-0.9511,-0.309L-0.2245,-0.309Z", "filled": true, "fill": "#ffff00", "stroke": "black", "strokeWidth": 1.5, "size": 1130, "opacity": 1},
     "encoding": {"x": {"datum": 25}, "y": {"datum": 2.4}}},
    {"data": {"name": "one"},
     "mark": {"type": "point", "shape": "M0,-1L0.2245,-0.309L0.9511,-0.309L0.3633,0.118L0.5878,0.809L0,0.382L-0.5878,0.809L-0.3633,0.118L-0.9511,-0.309L-0.2245,-0.309Z", "filled": true, "fill": "#ff6a13", "stroke": "black", "strokeWidth": 1.5, "size": 1130, "opacity": 1},
     "encoding": {"x": {"datum": 52}, "y": {"datum": 3.1}}},
    {"data": {"name": "one"},
     "mark": {"type": "text", "text": "D = 4 m²/s", "angle": -26, "fontWeight": "bold", "fontSize": 22, "color": "black", "align": "center", "baseline": "middle"},
     "encoding": {"x": {"datum": 67}, "y": {"datum": 3.85}}},
    {"data": {"name": "one"},
     "mark": {"type": "text", "text": "Slow slip driven", "angle": -90, "fontWeight": "bold", "fontSize": 23, "color": "black", "align": "center", "baseline": "middle"},
     "encoding": {"x": {"datum": -5.9}, "y": {"datum": 2.24}}},
    {"data": {"name": "one"},
     "mark": {"type": "rect", "fill": "white", "stroke": "#262626", "strokeWidth": 1},
     "encoding": {"x": {"datum": -25}, "x2": {"datum": -18}, "y": {"datum": 4.5}, "y2": {"datum": 4.06}}},
    {"data": {"name": "one"},
     "mark": {"type": "text", "text": "a", "fontSize": 24, "color": "black", "align": "center", "baseline": "middle"},
     "encoding": {"x": {"datum": -21.5}, "y": {"datum": 4.29}}}
  ]},
  {"data": {"name": "cbar"},
   "mark": {"type": "rect", "fill": {"gradient": "linear", "x1": 0, "y1": 0, "x2": 0, "y2": 1, "stops": [{"offset": 0, "color": "#ff0000"}, {"offset": 0.5, "color": "#ffffff"}, {"offset": 1, "color": "#0000ff"}]}, "stroke": "#555555", "strokeWidth": 1},
   "encoding": {
     "x": {"datum": 1.0383, "type": "quantitative", "scale": {"domain": [0, 1], "nice": false, "zero": false}, "axis": null},
     "x2": {"datum": 1.0867},
     "y": {"field": "lo", "type": "quantitative", "scale": {"domain": [-3, 3], "nice": false, "zero": false},
       "axis": {"orient": "right", "offset": 57.3, "tickCount": 50, "values": [-3,-2,-1,0,1,2,3], "labelExpr": "toString(datum.value)", "labelOverlap": false, "grid": false,
         "tickSize": -5, "labelPadding": 12, "title": ["Perpendicular distance", "from F1 (km)"], "titleAngle": 270, "titleBaseline": "top", "titleAlign": "center", "titleX": 36, "titleY": 163.5, "titleLineHeight": 26}},
     "y2": {"field": "hi"}
   }}
  ]
},
{
  "hconcat": [
  {
    "width": 343, "height": 245,
    "view": {"fill": "white", "stroke": "#262626"},
    "layer": [
      {"data": {"name": "b"},
       "mark": {"type": "circle", "size": 50, "opacity": 1},
       "encoding": {
         "x": {"field": "t", "type": "quantitative", "scale": {"domain": [20, 41], "nice": false, "zero": false},
           "axis": {"title": "Time since the 1st event (hr)", "tickCount": 500, "values": [20,21,22,23,24,25,26,27,28,29,30,31,32,33,34,35,36,37,38,39,40,41],
             "labelExpr": "datum.value % 5 === 0 ? toString(datum.value) : ''", "labelOverlap": false, "grid": true,
             "gridColor": {"condition": {"test": "datum.value % 5 === 0", "value": "#c4c4c4"}, "value": "#cfcfcf"},
             "gridDash": {"condition": {"test": "datum.value % 5 === 0", "value": []}, "value": [1, 2]},
             "tickSize": -6, "tickOpacity": {"condition": {"test": "datum.value % 5 === 0", "value": 1}, "value": 0},
             "labelPadding": 23, "titlePadding": 5}},
         "y": {"field": "r", "type": "quantitative", "scale": {"domain": [0, 1.566], "nice": false, "zero": false},
           "axis": {"title": "Distance from origin (km)", "tickCount": 500, "values": [0,0.1,0.2,0.3,0.4,0.5,0.6,0.7,0.8,0.9,1,1.1,1.2,1.3,1.4,1.5],
             "labelExpr": "indexof([0,0.5,1,1.5], datum.value) >= 0 ? toString(datum.value) : ''", "labelOverlap": false, "grid": true,
             "gridColor": {"condition": {"test": "indexof([0,0.5,1,1.5], datum.value) >= 0", "value": "#c4c4c4"}, "value": "#cfcfcf"},
             "gridDash": {"condition": {"test": "indexof([0,0.5,1,1.5], datum.value) >= 0", "value": []}, "value": [1, 2]},
             "tickSize": -6, "tickOpacity": {"condition": {"test": "indexof([0,0.5,1,1.5], datum.value) >= 0", "value": 1}, "value": 0},
             "labelPadding": 15, "titlePadding": 13}},
         "color": {"field": "p", "type": "quantitative", "scale": {"domain": [-3, 0, 3], "range": ["#0000ff", "#ffffff", "#ff0000"], "interpolate": "rgb"}, "legend": null}
       }},
      {"data": {"name": "fb"},
       "mark": {"type": "line", "color": "black", "strokeWidth": 2, "clip": true},
       "encoding": {"x": {"field": "t", "type": "quantitative"}, "y": {"field": "r", "type": "quantitative"}}},
      {"data": {"name": "segs"},
       "mark": {"type": "line", "color": "black", "strokeWidth": 1.8, "strokeDash": [7, 3, 2, 3]},
       "encoding": {"x": {"field": "t", "type": "quantitative"}, "y": {"field": "r", "type": "quantitative"}, "detail": {"field": "s", "type": "nominal"}}},
      {"data": {"name": "one"},
       "mark": {"type": "point", "shape": "M0,-1L0.2245,-0.309L0.9511,-0.309L0.3633,0.118L0.5878,0.809L0,0.382L-0.5878,0.809L-0.3633,0.118L-0.9511,-0.309L-0.2245,-0.309Z", "filled": true, "fill": "#ffff00", "stroke": "black", "strokeWidth": 1.5, "size": 1000, "opacity": 1},
       "encoding": {"x": {"datum": 23}, "y": {"datum": 0}}},
      {"data": {"name": "one"},
       "mark": {"type": "text", "text": "D = 3 m²/s", "angle": -31, "fontWeight": "bold", "fontSize": 22, "color": "black", "align": "center", "baseline": "middle"},
       "encoding": {"x": {"datum": 33.18}, "y": {"datum": 1.265}}},
      {"data": {"name": "one"},
       "mark": {"type": "rect", "fill": "white", "stroke": "#262626", "strokeWidth": 1},
       "encoding": {"x": {"datum": 20}, "x2": {"datum": 21.94}, "y": {"datum": 1.566}, "y2": {"datum": 1.371}}},
      {"data": {"name": "one"},
       "mark": {"type": "text", "text": "b", "fontSize": 24, "color": "black", "align": "center", "baseline": "middle"},
       "encoding": {"x": {"datum": 20.97}, "y": {"datum": 1.47}}}
    ]
  },
  {
    "width": 344, "height": 245,
    "view": {"fill": "white", "stroke": "#262626"},
    "layer": [
      {"data": {"name": "c"},
       "mark": {"type": "circle", "size": 42, "opacity": 1, "clip": true},
       "encoding": {
         "x": {"field": "t", "type": "quantitative", "scale": {"domain": [40, 103.2], "nice": false, "zero": false},
           "axis": {"title": "Time since the 1st event (hr)", "tickCount": 500, "values": [40,45,50,55,60,65,70,75,80,85,90,95,100],
             "labelExpr": "datum.value % 20 === 0 ? toString(datum.value) : ''", "labelOverlap": false, "grid": true,
             "gridColor": {"condition": {"test": "datum.value % 20 === 0", "value": "#c4c4c4"}, "value": "#cfcfcf"},
             "gridDash": {"condition": {"test": "datum.value % 20 === 0", "value": []}, "value": [1, 2]},
             "tickSize": -6, "tickOpacity": {"condition": {"test": "datum.value % 20 === 0", "value": 1}, "value": 0},
             "labelPadding": 23, "titlePadding": 5}},
         "y": {"field": "r", "type": "quantitative", "scale": {"domain": [0, 1.5], "nice": false, "zero": false},
           "axis": {"title": "Distance from origin (km)", "tickCount": 500, "values": [0,0.1,0.2,0.3,0.4,0.5,0.6,0.7,0.8,0.9,1,1.1,1.2,1.3,1.4,1.5],
             "labelExpr": "indexof([0,0.5,1,1.5], datum.value) >= 0 ? toString(datum.value) : ''", "labelOverlap": false, "grid": true,
             "gridColor": {"condition": {"test": "indexof([0,0.5,1,1.5], datum.value) >= 0", "value": "#c4c4c4"}, "value": "#cfcfcf"},
             "gridDash": {"condition": {"test": "indexof([0,0.5,1,1.5], datum.value) >= 0", "value": []}, "value": [1, 2]},
             "tickSize": -6, "tickOpacity": {"condition": {"test": "indexof([0,0.5,1,1.5], datum.value) >= 0", "value": 1}, "value": 0},
             "labelPadding": 15, "titlePadding": 13}},
         "color": {"field": "p", "type": "quantitative", "scale": {"domain": [-3, 0, 3], "range": ["#0000ff", "#ffffff", "#ff0000"], "interpolate": "rgb"}, "legend": null}
       }},
      {"data": {"name": "fc"},
       "mark": {"type": "line", "color": "black", "strokeWidth": 2, "clip": true},
       "encoding": {"x": {"field": "t", "type": "quantitative"}, "y": {"field": "r", "type": "quantitative"}}},
      {"data": {"name": "one"},
       "mark": {"type": "point", "shape": "M0,-1L0.2245,-0.309L0.9511,-0.309L0.3633,0.118L0.5878,0.809L0,0.382L-0.5878,0.809L-0.3633,0.118L-0.9511,-0.309L-0.2245,-0.309Z", "filled": true, "fill": "#ff6a13", "stroke": "black", "strokeWidth": 1.5, "size": 1000, "opacity": 1},
       "encoding": {"x": {"datum": 50}, "y": {"datum": 0}}},
      {"data": {"name": "one"},
       "mark": {"type": "text", "text": "D = 1 m²/s", "angle": -28, "fontWeight": "bold", "fontSize": 22, "color": "black", "align": "center", "baseline": "middle"},
       "encoding": {"x": {"datum": 79.9}, "y": {"datum": 1.233}}},
      {"data": {"name": "one"},
       "mark": {"type": "rect", "fill": "white", "stroke": "#262626", "strokeWidth": 1},
       "encoding": {"x": {"datum": 40}, "x2": {"datum": 45.8}, "y": {"datum": 1.5}, "y2": {"datum": 1.306}}},
      {"data": {"name": "one"},
       "mark": {"type": "text", "text": "c", "fontSize": 24, "color": "black", "align": "center", "baseline": "middle"},
       "encoding": {"x": {"datum": 42.9}, "y": {"datum": 1.403}}}
    ]
  }
  ],
  "spacing": 117,
  "bounds": "flush",
  "resolve": {"scale": {"color": "independent"}}
}
]
}
